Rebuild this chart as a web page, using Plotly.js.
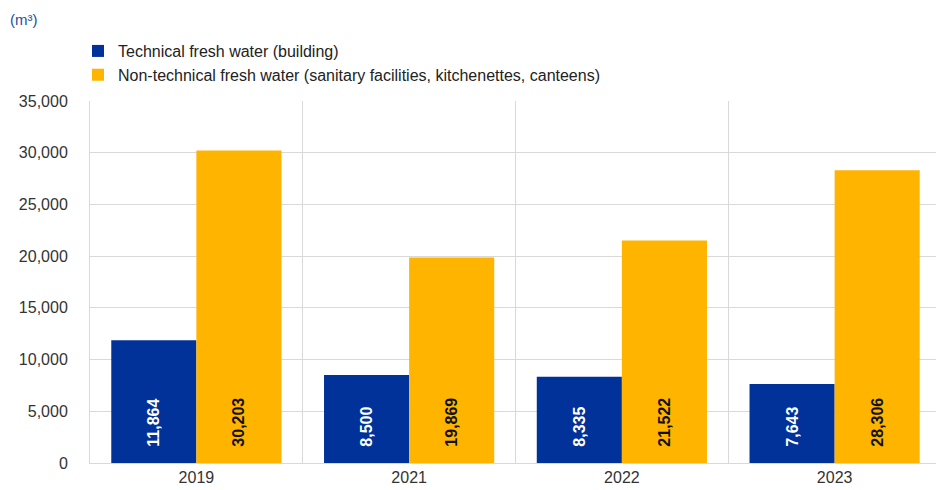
<!DOCTYPE html>
<html>
<head>
<meta charset="utf-8">
<script src="https://cdn.plot.ly/plotly-3.0.1.min.js"></script>
<style>html,body{margin:0;padding:0;overflow:hidden;background:#fff;}</style>
</head>
<body>
<div id="chart" style="width:941px;height:490px;"></div>
<script>
const years = ["2019", "2021", "2022", "2023"];
const technical = [11864, 8500, 8335, 7643];
const nonTechnical = [30203, 19869, 21522, 28306];
const seriesNames = ["Technical fresh water (building)", "Non-technical fresh water (sanitary facilities, kitchenettes, canteens)"];
const yTicks = [0, 5000, 10000, 15000, 20000, 25000, 30000, 35000];

const pad = "\u00a0\u00a0\u00a0";
const labelFont = "Liberation Sans, Arial, sans-serif";
const traces = [
  {
    type: "bar", name: seriesNames[0], x: years, y: technical,
    marker: {color: "#003299"},
    texttemplate: pad + "%{y:,}", textposition: "inside", insidetextanchor: "start",
    textangle: -90, constraintext: "none",
    textfont: {family: labelFont, size: 16, color: "#ffffff", weight: "bold"},
    hoverinfo: "skip"
  },
  {
    type: "bar", name: seriesNames[1], x: years, y: nonTechnical,
    marker: {color: "#FFB400"},
    texttemplate: pad + "%{y:,}", textposition: "inside", insidetextanchor: "start",
    textangle: -90, constraintext: "none",
    textfont: {family: labelFont, size: 16, color: "#111111", weight: "bold"},
    hoverinfo: "skip"
  }
];

const layout = {
  width: 941, height: 490,
  margin: {l: 90, r: 0, t: 101, b: 27},
  paper_bgcolor: "#ffffff", plot_bgcolor: "#ffffff",
  font: {family: labelFont, size: 16, color: "#333333"},
  barmode: "group", bargap: 0.2, bargroupgap: 0,
  showlegend: true,
  legend: {x: -0.0141, xanchor: "left", y: 1.185, yanchor: "top", orientation: "v",
           font: {size: 16, color: "#222222"}, itemwidth: 30, tracegroupgap: 0,
           bgcolor: "rgba(0,0,0,0)"},
  title: {text: "(m³)", x: 10 / 941, xref: "container", xanchor: "left", y: 1 - 20 / 490, yref: "container", yanchor: "middle",
          font: {size: 15, color: "#1f4e9f"}},
  xaxis: {
    type: "category", tickson: "boundaries", showgrid: true, gridcolor: "#d9d9d9", gridwidth: 1,
    showline: true, linecolor: "#d9d9d9", linewidth: 1, ticks: "", tickfont: {size: 16, color: "#333333"},
    fixedrange: true
  },
  yaxis: {
    range: [0, 35000], tickvals: yTicks, tickformat: ",", showgrid: true, gridcolor: "#d9d9d9",
    gridwidth: 1, zeroline: false, showline: true, linecolor: "#d9d9d9", linewidth: 1,
    ticks: "", ticklabelstandoff: 18,
    tickfont: {size: 16, color: "#333333"}, fixedrange: true
  }
};

Plotly.newPlot("chart", traces, layout, {displayModeBar: false, staticPlot: true});
</script>
</body>
</html>
